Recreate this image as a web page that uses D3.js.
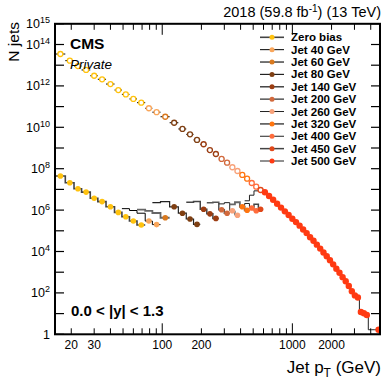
<!DOCTYPE html>
<html><head><meta charset="utf-8">
<script src="https://cdn.jsdelivr.net/npm/d3@7"></script>
<style>html,body{margin:0;padding:0;background:#fff;}svg{display:block;font-family:"Liberation Sans",Arial,Helvetica,sans-serif;}</style>
</head><body>
<svg id="c" width="383" height="381"></svg>
<script>
// ---- data ----
const binEdges = [15,18,21,24,28,32,37,43,49,56,64,74,84,97,114,133,153,174,196,220,245,272,300,330,362,395,430,468,507,548,592,638,686,737,790,846,905,967,1032,1101,1172,1248,1327,1410,1497,1588,1684,1784,1890,2000,2116,2238,2366,2500,2640,2787,2941,3103,3273,3450,3637,3832,4037,4252,4477,4713];
const triggers = ["Zero bias","Jet 40 GeV","Jet 60 GeV","Jet 80 GeV","Jet 140 GeV","Jet 200 GeV","Jet 260 GeV","Jet 320 GeV","Jet 400 GeV","Jet 450 GeV","Jet 500 GeV"];
// first bin of each trigger's raw histogram
const rawStart = [0, 8, 10, 12, 16, 19, 21, 23, 25, 27, 26];
// log10 of raw jet counts per bin
const rawLog = [
  [7.65,7.32,7.03,6.87,6.57,6.41,6.16,5.89,5.68,5.47,5.28],
  [6.07,5.98,5.85,5.47,5.30],
  [6.02,5.96,5.86,5.63],
  [6.36,6.41,6.16,5.85,5.57,5.31],
  [6.38,6.41,6.04,5.82,5.60],
  [6.36,6.38,6.02,5.85],
  [6.30,6.36,5.97,5.75],
  [6.28,6.38,6.16,5.99],
  [6.20,6.32,6.10,5.97],
  [6.15,6.28,6.04],
  [6.45,6.72,6.93,6.97,6.86,6.68,6.50,6.31,6.12,5.94,5.76,5.58,5.42,5.25,5.06,4.89,4.69,4.52,4.33,4.14,3.95,3.77,3.58,3.38,3.17,2.97,2.76,2.56,2.33,2.08,1.88,1.78,1.08,1.02,0.93,0.22,0.22,0.22,0.22]
];
// bins where each trigger is used
const fireFirst = [0, 11, 13, 14, 18, 21, 23, 25, 27, 29, 30];
const fireLast  = [10, 12, 13, 17, 20, 22, 24, 26, 28, 29, 64];
const emptyBins = [61, 62, 63];
// log10 of prescale-weighted counts, bins 0..29
const weightedLog = [13.54,13.22,12.96,12.77,12.49,12.32,12.09,11.80,11.59,11.37,11.19,10.92,10.73,10.51,10.22,9.92,9.66,9.39,9.18,8.90,8.71,8.47,8.29,8.07,7.89,7.70,7.52,7.31,7.13,6.97];
const xTickLabels = [20,30,100,200,1000,2000];
const yTickLabelExp = [0,2,4,6,8,10,12,14,15];

// ---- styles ----
const colors = ["#ffc20e","#f9a65a","#d9791f","#7f3f12","#9c3d12","#d2693c","#f8a27a","#ff7510","#ff6c3c","#e0481a","#ff3a12"];
const lineColors = ["#444","#000","#666","#222","#444","#555","#222","#666","#222","#444","#222"];
const lineWidths = [1.6,1,1.8,1.2,1.5,1.5,1,1.8,1,1.5,1];

const svg = d3.select("#c");
const L = 55, R = 380, T = 23.8, B = 334.3;
const x = d3.scaleLog().domain([15, 4713]).range([L, R]);
const y = d3.scaleLog().domain([1, 1e15]).range([B, T]);
const center = i => (binEdges[i] + binEdges[i+1]) / 2;

svg.append("clipPath").attr("id","pc").append("rect").attr("x",L).attr("y",T).attr("width",R-L).attr("height",B-T);
const plot = svg.append("g").attr("clip-path","url(#pc)");

// raw step histograms
const stepLine = d3.line().x(d => x(d[0])).y(d => y(d[1])).curve(d3.curveStepAfter);
rawLog.forEach((vals, t) => {
  const pts = vals.map((v, k) => [binEdges[rawStart[t] + k], Math.pow(10, v)]);
  pts.push([binEdges[rawStart[t] + vals.length], Math.pow(10, vals[vals.length-1])]);
  plot.append("path").attr("d", stepLine(pts)).attr("fill","none")
    .attr("stroke", lineColors[t]).attr("stroke-width", lineWidths[t]);
});

// weighted: horizontal bin bars + open circles
const trigAt = b => fireFirst.findIndex((f, t) => b >= f && b <= fireLast[t]);
weightedLog.forEach((v, b) => {
  plot.append("line").attr("x1", x(binEdges[b])).attr("x2", x(binEdges[b+1]))
    .attr("y1", y(Math.pow(10, v))).attr("y2", y(Math.pow(10, v)))
    .attr("stroke","#000").attr("stroke-width",1);
});
weightedLog.forEach((v, b) => {
  plot.append("circle").attr("cx", x(center(b))).attr("cy", y(Math.pow(10, v))).attr("r", 2.5)
    .attr("fill","#fff").attr("stroke", colors[trigAt(b)]).attr("stroke-width",1.3);
});

// raw markers
rawLog.forEach((vals, t) => {
  vals.forEach((v, k) => {
    const b = rawStart[t] + k;
    if (b < fireFirst[t] || b > fireLast[t] || emptyBins.includes(b)) return;
    plot.append("circle").attr("cx", x(center(b))).attr("cy", y(Math.pow(10, v)))
      .attr("r", t === 10 ? 3.2 : 2.8).attr("fill", colors[t]);
  });
});

// ---- axes / frame ----
const ax = svg.append("g").attr("stroke","#000");
const xMinor = [];
[10,100,1000].forEach(d => { for (let m = 1; m <= 9; m++) { const v = m*d; if (v >= 15 && v <= 4713) xMinor.push(v); } });
xMinor.forEach(v => {
  const len = (v === 100 || v === 1000) ? 11 : 6;
  ax.append("line").attr("x1",x(v)).attr("x2",x(v)).attr("y1",B).attr("y2",B-len).attr("stroke-width",1);
  ax.append("line").attr("x1",x(v)).attr("x2",x(v)).attr("y1",T).attr("y2",T+len).attr("stroke-width",1);
});
for (let e = 0; e <= 15; e++) {
  const len = 9;
  ax.append("line").attr("x1",L).attr("x2",L+len).attr("y1",y(Math.pow(10,e))).attr("y2",y(Math.pow(10,e))).attr("stroke-width",1.2);
  ax.append("line").attr("x1",R).attr("x2",R-len).attr("y1",y(Math.pow(10,e))).attr("y2",y(Math.pow(10,e))).attr("stroke-width",1.2);
}
svg.append("rect").attr("x",L).attr("y",T).attr("width",R-L).attr("height",B-T)
  .attr("fill","none").attr("stroke","#000").attr("stroke-width",2);

xTickLabels.forEach(v => {
  svg.append("text").attr("x", x(v)).attr("y", 348.5).attr("text-anchor","middle")
    .attr("font-size",12).text(v);
});
yTickLabelExp.forEach(e => {
  const t = svg.append("text").attr("x", 50).attr("y", y(Math.pow(10,e)) + 4.5)
    .attr("text-anchor","end").attr("font-size",12.5);
  if (e === 0) { t.text("1"); }
  else {
    t.append("tspan").text("10");
    t.append("tspan").attr("dy",-5).attr("font-size",9).text(e);
  }
});

// titles
const xt = svg.append("text").attr("x",381).attr("y",373).attr("text-anchor","end").attr("font-size",17);
xt.append("tspan").text("Jet p");
xt.append("tspan").attr("dy",4).attr("font-size",12).text("T");
xt.append("tspan").attr("dy",-4).text(" (GeV)");

svg.append("text").attr("transform","translate(19,22) rotate(-90)").attr("text-anchor","end")
  .attr("font-size",15.5).text("N jets");

const tt = svg.append("text").attr("x",381).attr("y",17).attr("text-anchor","end").attr("font-size",14.5);
tt.append("tspan").text("2018 (59.8 fb");
tt.append("tspan").attr("dy",-5).attr("font-size",10).text("-1");
tt.append("tspan").attr("dy",5).text(") (13 TeV)");

svg.append("text").attr("x",70).attr("y",48.5).attr("font-size",15.5).attr("font-weight","bold").text("CMS");
svg.append("text").attr("x",70).attr("y",69).attr("font-size",13.5).attr("font-style","italic").text("Private");
svg.append("text").attr("x",71).attr("y",316).attr("font-size",15).attr("font-weight","bold").text("0.0 < |y| < 1.3");

// legend
const lg = svg.append("g");
triggers.forEach((name, t) => {
  const cy = 37.3 + t * 12.37;
  lg.append("line").attr("x1",260).attr("x2",284).attr("y1",cy).attr("y2",cy)
    .attr("stroke", lineColors[t]).attr("stroke-width", lineWidths[t]);
  lg.append("circle").attr("cx",272).attr("cy",cy).attr("r",2.5).attr("fill",colors[t]);
  lg.append("text").attr("x",291).attr("y",cy+4).attr("font-size",11.5).attr("font-weight","bold").text(name);
});
</script>
</body></html>
